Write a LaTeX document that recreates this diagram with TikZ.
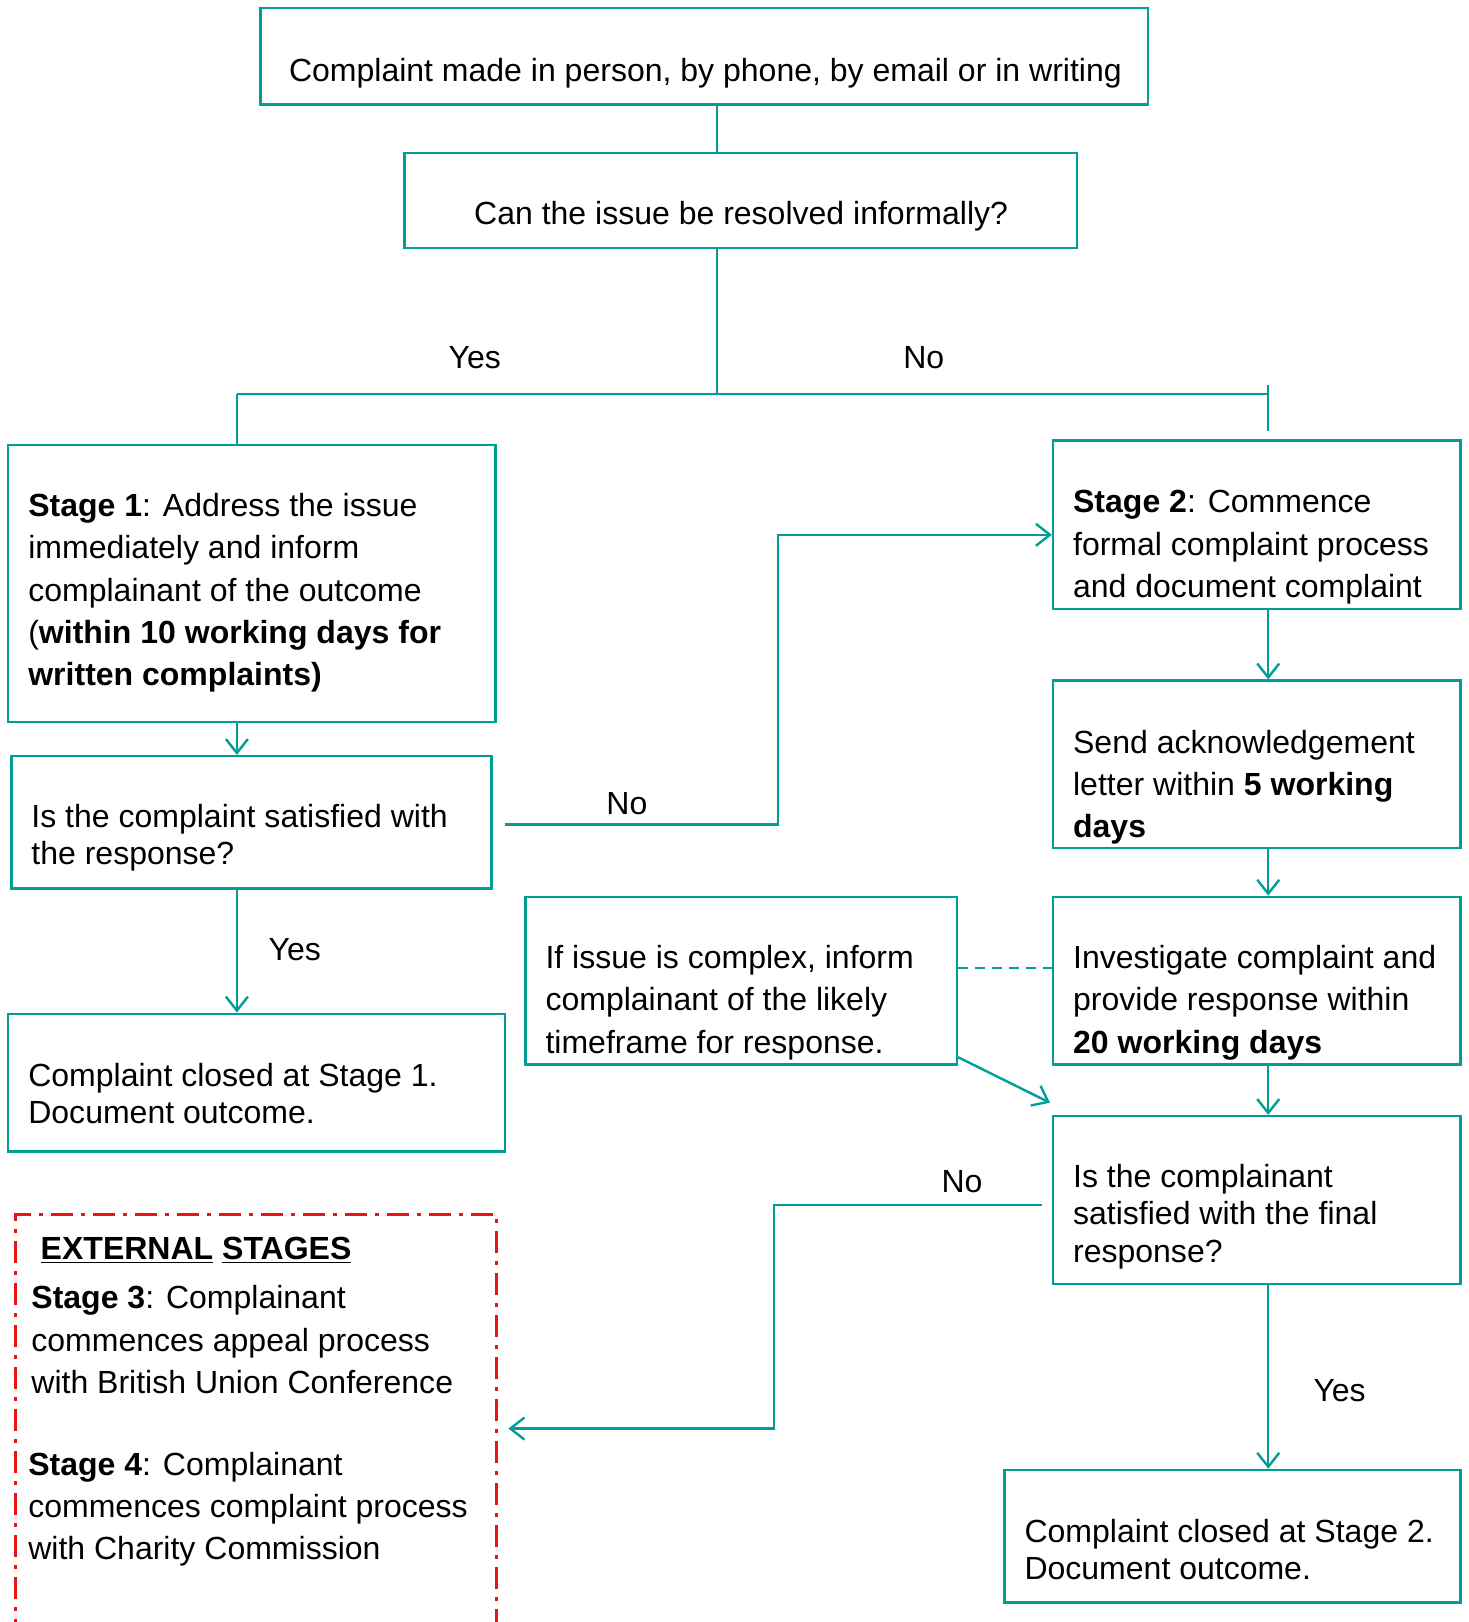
\documentclass[tikz,border=0pt]{standalone}
\usepackage{fontspec}
\setmainfont{Liberation Sans}
\usetikzlibrary{arrows.meta,fit}

\definecolor{flowteal}{RGB}{0,158,148}
\definecolor{extred}{RGB}{235,20,20}

\tikzset{
  box/.style={draw=flowteal, line width=1.2pt, inner sep=0pt, rectangle},
  txt/.style={inner sep=0pt, align=left, anchor=west, font=\fontsize{16}{21.2}\selectfont},
  txtsm/.style={txt, font=\fontsize{16}{18.6}\selectfont},
  link/.style={draw=flowteal, line width=1.2pt},
  arr/.style={link, -{Straight Barb[length=7pt,width=11pt]}},
  lbl/.style={inner sep=0pt, font=\fontsize{16}{19}\selectfont},
  extbox/.style={draw=extred, line width=1.9pt, dash pattern=on 11pt off 4pt on 2pt off 4pt, inner sep=0pt, rectangle},
}

\begin{document}
\begin{tikzpicture}[x=0.517pt, y=-0.517pt]
\useasboundingbox (0,0) rectangle (1420,1568);

%Boxes
\node[box, fit={(252,8) (1110,101)}] (start) {};
\node[box, fit={(391,148) (1041,240)}] (informal) {};
\node[box, fit={(8,430) (479,698)}] (stageone) {};
\node[box, fit={(11,731) (475,859)}] (satisfied) {};
\node[box, fit={(8,980) (488,1113)}] (closedone) {};
\node[box, fit={(1018,426) (1412,589)}] (stagetwo) {};
\node[box, fit={(1018,658) (1412,820)}] (acknowledge) {};
\node[box, fit={(1018,867) (1412,1029)}] (investigate) {};
\node[box, fit={(508,867) (925,1029)}] (complex) {};
\node[box, fit={(1018,1079) (1412,1241)}] (final) {};
\node[box, fit={(971,1421) (1412,1549)}] (closedtwo) {};
\node[extbox, fit={(15,1174) (480,1640)}] (external) {};

%Box texts
\node[txt] (starttext) at (279,71) {Complaint made in person, by phone, by email or in writing};
\node[txt] (informaltext) at (458,209) {Can the issue be resolved informally?};
\node[txt] (stageonetext) at (27,573) {\textbf{Stage 1}: Address the issue\\
  immediately and inform\\ complainant of the outcome\\
  (\textbf{within 10 working days for}\\ \textbf{written complaints)}};
\node[txtsm] (satisfiedtext) at (30,810) {Is the complaint satisfied with\\ the response?};
\node[txtsm] (closedonetext) at (27,1057) {Complaint closed at Stage 1.\\ Document outcome.};
\node[txt] (stagetwotext) at (1037,529) {\textbf{Stage 2}: Commence\\ formal complaint process\\ and document complaint};
\node[txt] (acknowledgetext) at (1037,761) {Send acknowledgement\\ letter within \textbf{5 working}\\ \textbf{days}};
\node[txt] (investigatetext) at (1037,969) {Investigate complaint and\\ provide response within\\ \textbf{20 working days}};
\node[txt] (complextext) at (527,969) {If issue is complex, inform\\ complainant of the likely\\ timeframe for response.};
\node[txtsm] (finaltext) at (1037,1176) {Is the complainant\\ satisfied with the final\\ response?};
\node[txtsm] (closedtwotext) at (990,1498) {Complaint closed at Stage 2.\\ Document outcome.};
\node[txt] (externaltitle) at (39,1209) {\textbf{\underline{EXTERNAL} \underline{STAGES}}};
\node[txt] (stagethree) at (30,1295) {\textbf{Stage 3}: Complainant\\ commences appeal process\\ with British Union Conference};
\node[txt] (stagefour) at (27,1459) {\textbf{Stage 4}: Complainant\\ commences complaint process\\ with Charity Commission};

%Turning points
\coordinate (split) at (693,381);
\coordinate (yesend) at (229,381);
\coordinate (noend) at (1226,381);
\coordinate (noone) at (752,797);
\coordinate (notwo) at (748,1381);
\coordinate (cxend) at (1015,1066);

%Connectors
\draw[link] (start.south -| split) -- (informal.north -| split);
\draw[link] (informal.south -| split) -- (split);
\draw[link] (yesend) -- (noend);
\draw[link] (yesend) -- (stageone.north -| yesend);
\draw[link] (noend |- 0,372) -- (noend |- 0,417);

\draw[arr] (stageone.south -| yesend) -- (satisfied.north -| yesend);
\draw[arr] (satisfied.south -| yesend) -- (closedone.north -| yesend);
\draw[arr, shorten <=6pt] (satisfied.east |- noone) -- (noone) |- (stagetwo.west |- 0,517);

\draw[arr] (stagetwo.south -| noend) -- (acknowledge.north -| noend);
\draw[arr] (acknowledge.south -| noend) -- (investigate.north -| noend);
\draw[arr] (investigate.south -| noend) -- (final.north -| noend);
\draw[arr] (final.south -| noend) -- (closedtwo.north -| noend);

\draw[link, dash pattern=on 5pt off 3.5pt] (complex.east |- 0,936) -- (investigate.west |- 0,936);
\draw[arr] (complex.south east |- 0,1022) -- (cxend);
\draw[arr, shorten <=5pt, shorten >=5pt] (final.west |- 0,1165) -| (notwo) -- (notwo -| external.east);

%Labels
\node[lbl] (yesone) at (459,346) {Yes};
\node[lbl] (noonelbl) at (893,346) {No};
\node[lbl] (notwolbl) at (606,777) {No};
\node[lbl] (yestwo) at (285,918) {Yes};
\node[lbl] (nothree) at (930,1142) {No};
\node[lbl] (yesthree) at (1295,1344) {Yes};

\end{tikzpicture}
\end{document}
